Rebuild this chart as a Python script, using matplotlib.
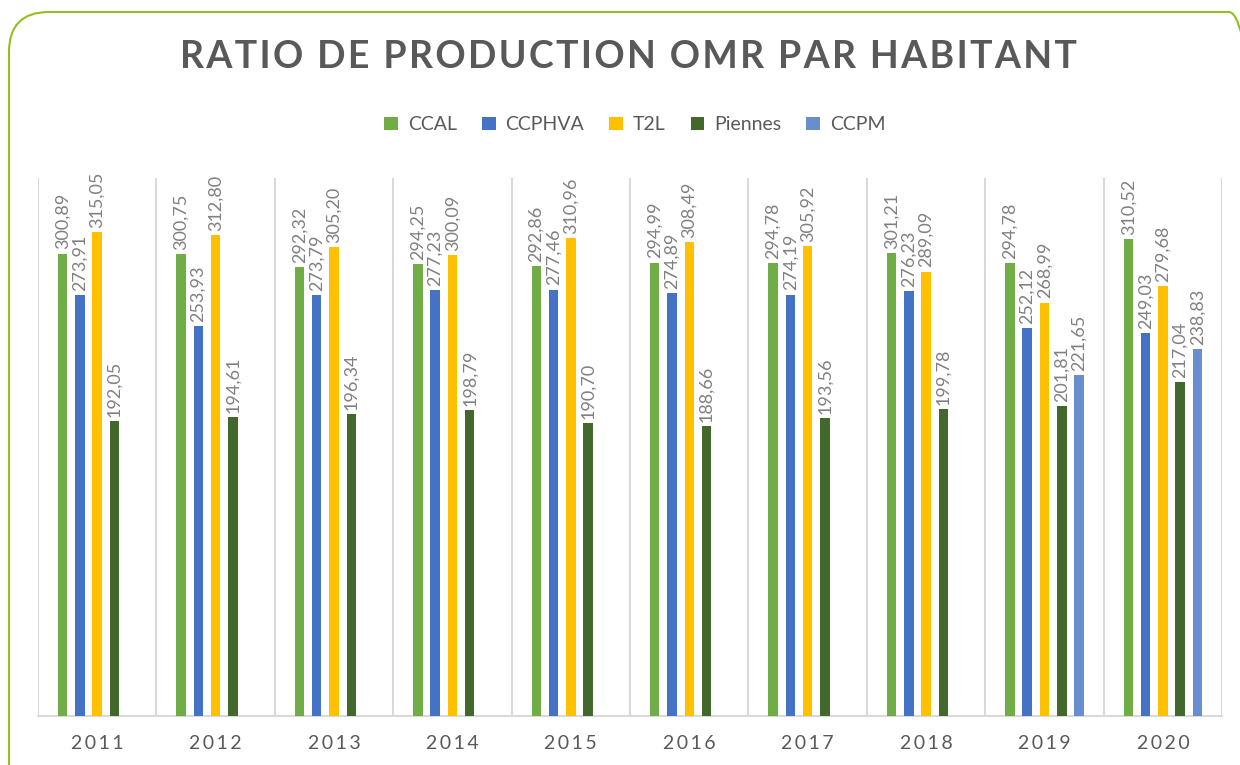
# Ratio de production OMR par habitant - grouped bars by year
import numpy as np
import matplotlib.pyplot as plt
from matplotlib.patches import FancyBboxPatch

years = [2011, 2012, 2013, 2014, 2015, 2016, 2017, 2018, 2019, 2020]
series = ["CCAL", "CCPHVA", "T2L", "Piennes", "CCPM"]
ccal = [300.89, 300.75, 292.32, 294.25, 292.86, 294.99, 294.78, 301.21, 294.78, 310.52]
ccphva = [273.91, 253.93, 273.79, 277.23, 277.46, 274.89, 274.19, 276.23, 252.12, 249.03]
t2l = [315.05, 312.80, 305.20, 300.09, 310.96, 308.49, 305.92, 289.09, 268.99, 279.68]
piennes = [192.05, 194.61, 196.34, 198.79, 190.70, 188.66, 193.56, 199.78, 201.81, 217.04]
ccpm = [None, None, None, None, None, None, None, None, 221.65, 238.83]
colors = ["#70ad47", "#4472c4", "#ffc000", "#43682b", "#698ed0"]
title = "RATIO DE PRODUCTION OMR PAR HABITANT"

plt.rcParams['font.family'] = ['Lato', 'DejaVu Sans']

fig = plt.figure(figsize=(12.4, 7.65), dpi=100)
ax = fig.add_axes([0.0306, 0.064, 0.955, 0.7033])

x = np.arange(len(years))
slot = 0.146
width = 0.08
for i, (name, vals) in enumerate(zip(series, [ccal, ccphva, t2l, piennes, ccpm])):
    xs = [xi + (i - 2) * slot for xi, v in zip(x, vals) if v is not None]
    vs = [v for v in vals if v is not None]
    ax.bar(xs, vs, width=width, color=colors[i], label=name, zorder=3)
    for xi, v in zip(xs, vs):
        ax.annotate(f"{v:.2f}".replace(".", ","), (xi, v), xytext=(0, 3),
                    textcoords="offset points", rotation=90, ha="center",
                    va="bottom", fontsize=13, color="#808080")

for b in np.arange(-0.5, len(years), 1.0):
    ax.axvline(b, color="#d9d9d9", lw=1.5, zorder=1)

ax.set_xlim(-0.5, len(years) - 0.5)
ax.set_ylim(0, 350)
ax.set_yticks([])
ax.set_xticks(x)
ax.set_xticklabels(["\u2009".join(str(y)) for y in years], fontsize=14, color="#595959")
ax.tick_params(axis="x", length=0, pad=14)
for s in ["top", "left", "right"]:
    ax.spines[s].set_visible(False)
ax.spines["bottom"].set_color("#d9d9d9")
ax.spines["bottom"].set_linewidth(1.5)

fig.text(0.507, 0.925, "\u200a".join(title), ha="center",
         va="center", fontsize=27, fontweight="bold", color="#595959")

fig.legend(loc="center", bbox_to_anchor=(0.512, 0.837), ncol=5, frameon=False,
           fontsize=14, handlelength=0.7, handleheight=0.7, columnspacing=1.3,
           handletextpad=0.5, labelcolor="#595959")

frame = FancyBboxPatch((0.09, -0.5), 12.6, 8.03, boxstyle="round,pad=0,rounding_size=0.4",
                       transform=fig.dpi_scale_trans, fill=False, edgecolor="#92c020",
                       lw=1.5, clip_on=False)
fig.patches.append(frame)

fig.savefig("out.png", dpi=100)
